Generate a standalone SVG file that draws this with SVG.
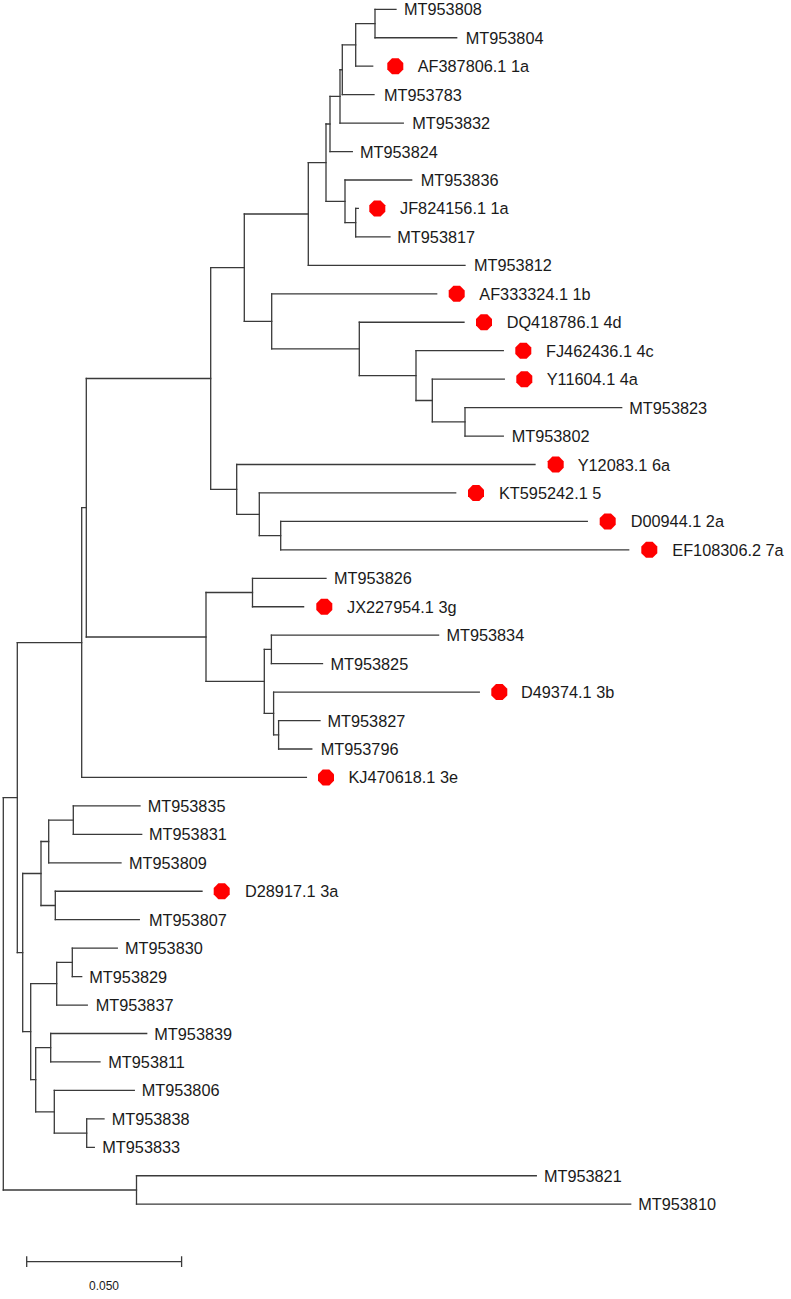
<svg xmlns="http://www.w3.org/2000/svg" xmlns:xlink="http://www.w3.org/1999/xlink" width="791" height="1299" viewBox="0 0 791 1299">
<style>
.br{fill:none;stroke:#3a3a3a;stroke-width:1.3;stroke-linecap:square}
.lb{font-family:"Liberation Sans",Arial,sans-serif;font-size:16.3px;fill:#1a1a1a}
.sc{font-family:"Liberation Sans",Arial,sans-serif;font-size:12px;fill:#1a1a1a}
.dot{fill:#ff0000}
</style>
<defs>
<path id="oct" d="M8,3.3 L3.3,8 L-3.3,8 L-8,3.3 L-8,-3.3 L-3.3,-8 L3.3,-8 L8,-3.3 Z"/>
</defs>
<rect width="791" height="1299" fill="#ffffff"/>
<g id="connectors">
<path class="br" d="M375 9.3 V37.75 M355.7 23.53 V66.2 M342.3 44.86 V94.65 M340 69.76 V123.1 M330 96.43 V151.55 M355.7 208.45 V236.9 M345 180 V222.68 M326 123.99 V201.34 M308.3 162.66 V265.35 M465 407.6 V436.05 M432.3 379.15 V421.83 M416 350.7 V400.49 M359.3 322.25 V375.6 M271.7 293.8 V348.9 M244.3 214 V321.35 M280.7 521.4 V549.85 M259.3 492.95 V535.6 M236.7 464.5 V514.3 M210.7 267.7 V489.4 M252.5 578.3 V606.75 M271.4 635.2 V663.65 M278.6 720.55 V749 M273.6 692.1 V734.8 M264.3 649.4 V713.4 M206 592.5 V681.4 M86.3 378.5 V637 M81.7 507.7 V777.45 M73.3 805.9 V834.35 M48.7 820.1 V862.8 M55.3 891.25 V919.7 M41 841.5 V905.5 M72.3 948.15 V976.6 M56.7 962.4 V1005.05 M50.7 1033.5 V1061.95 M86.7 1118.85 V1147.3 M54.3 1090.4 V1133.1 M35.7 1047.7 V1111.8 M30.7 983.7 V1079.7 M22.7 873.5 V1031.7 M17.3 642.6 V952.6 M136.5 1175.75 V1204.2 M3.3 797.6 V1190"/>
<path class="br" d="M355.7 23.53 H375 M342.3 44.86 H355.7 M340 69.76 H342.3 M330 96.43 H340 M326 123.99 H330 M345 222.68 H355.7 M326 201.34 H345 M308.3 162.66 H326 M244.3 214 H308.3 M432.3 421.83 H465 M416 400.49 H432.3 M359.3 375.6 H416 M271.7 348.9 H359.3 M244.3 321.35 H271.7 M210.7 267.7 H244.3 M259.3 535.6 H280.7 M236.7 514.3 H259.3 M210.7 489.4 H236.7 M86.3 378.5 H210.7 M206 592.5 H252.5 M264.3 649.4 H271.4 M273.6 734.8 H278.6 M264.3 713.4 H273.6 M206 681.4 H264.3 M86.3 637 H206 M81.7 507.7 H86.3 M17.3 642.6 H81.7 M48.7 820.1 H73.3 M41 841.5 H48.7 M41 905.5 H55.3 M22.7 873.5 H41 M56.7 962.4 H72.3 M30.7 983.7 H56.7 M35.7 1047.7 H50.7 M54.3 1133.1 H86.7 M35.7 1111.8 H54.3 M30.7 1079.7 H35.7 M22.7 1031.7 H30.7 M17.3 952.6 H22.7 M3.3 797.6 H17.3 M3.3 1190 H136.5"/>
<path class="br" d="M375 9.3 H396 M375 37.75 H456.7 M355.7 66.2 H372.7 M342.3 94.65 H374 M340 123.1 H403.3 M330 151.55 H352.3 M345 180 H411.7 M355.7 208.45 H358.3 M355.7 236.9 H390 M308.3 265.35 H465 M271.7 293.8 H436.7 M359.3 322.25 H464 M416 350.7 H503.3 M432.3 379.15 H504.3 M465 407.6 H621.7 M465 436.05 H503.3 M236.7 464.5 H535 M259.3 492.95 H455.7 M280.7 521.4 H587.3 M280.7 549.85 H628.7 M252.5 578.3 H326 M252.5 606.75 H303.6 M271.4 635.2 H438.6 M271.4 663.65 H322.5 M273.6 692.1 H479.3 M278.6 720.55 H320 M278.6 749 H311.8 M81.7 777.45 H306.4 M73.3 805.9 H140 M73.3 834.35 H141.7 M48.7 862.8 H121 M55.3 891.25 H202 M55.3 919.7 H139.3 M72.3 948.15 H117.3 M72.3 976.6 H81.7 M56.7 1005.05 H87.3 M50.7 1033.5 H146.7 M50.7 1061.95 H100 M54.3 1090.4 H134.3 M86.7 1118.85 H104 M86.7 1147.3 H94.3 M136.5 1175.75 H536.3 M136.5 1204.2 H630.7"/>
</g>
<g id="leaves">
<g id="n-MT953808"><text class="lb" x="404" y="15.3">MT953808</text></g>
<g id="n-MT953804"><text class="lb" x="465.7" y="43.75">MT953804</text></g>
<g id="n-AF387806"><use href="#oct" xlink:href="#oct" class="dot" x="395.3" y="66.2"/><text class="lb" x="417.7" y="72.2">AF387806.1 1a</text></g>
<g id="n-MT953783"><text class="lb" x="384" y="100.65">MT953783</text></g>
<g id="n-MT953832"><text class="lb" x="412.3" y="129.1">MT953832</text></g>
<g id="n-MT953824"><text class="lb" x="360" y="157.55">MT953824</text></g>
<g id="n-MT953836"><text class="lb" x="420.7" y="186">MT953836</text></g>
<g id="n-JF824156"><use href="#oct" xlink:href="#oct" class="dot" x="377.3" y="208.45"/><text class="lb" x="400" y="214.45">JF824156.1 1a</text></g>
<g id="n-MT953817"><text class="lb" x="397.3" y="242.9">MT953817</text></g>
<g id="n-MT953812"><text class="lb" x="474" y="271.35">MT953812</text></g>
<g id="n-AF333324"><use href="#oct" xlink:href="#oct" class="dot" x="456.7" y="293.8"/><text class="lb" x="479.3" y="299.8">AF333324.1 1b</text></g>
<g id="n-DQ418786"><use href="#oct" xlink:href="#oct" class="dot" x="484" y="322.25"/><text class="lb" x="506.7" y="328.25">DQ418786.1 4d</text></g>
<g id="n-FJ462436"><use href="#oct" xlink:href="#oct" class="dot" x="523.3" y="350.7"/><text class="lb" x="546" y="356.7">FJ462436.1 4c</text></g>
<g id="n-Y11604"><use href="#oct" xlink:href="#oct" class="dot" x="524.3" y="379.15"/><text class="lb" x="546.7" y="385.15">Y11604.1 4a</text></g>
<g id="n-MT953823"><text class="lb" x="629.3" y="413.6">MT953823</text></g>
<g id="n-MT953802"><text class="lb" x="511.7" y="442.05">MT953802</text></g>
<g id="n-Y12083"><use href="#oct" xlink:href="#oct" class="dot" x="555.7" y="464.5"/><text class="lb" x="577.7" y="470.5">Y12083.1 6a</text></g>
<g id="n-KT595242"><use href="#oct" xlink:href="#oct" class="dot" x="476" y="492.95"/><text class="lb" x="499" y="498.95">KT595242.1 5</text></g>
<g id="n-D00944"><use href="#oct" xlink:href="#oct" class="dot" x="607.7" y="521.4"/><text class="lb" x="630.7" y="527.4">D00944.1 2a</text></g>
<g id="n-EF108306"><use href="#oct" xlink:href="#oct" class="dot" x="649.3" y="549.85"/><text class="lb" x="672.3" y="555.85">EF108306.2 7a</text></g>
<g id="n-MT953826"><text class="lb" x="334" y="584.3">MT953826</text></g>
<g id="n-JX227954"><use href="#oct" xlink:href="#oct" class="dot" x="324.3" y="606.75"/><text class="lb" x="347" y="612.75">JX227954.1 3g</text></g>
<g id="n-MT953834"><text class="lb" x="446.4" y="641.2">MT953834</text></g>
<g id="n-MT953825"><text class="lb" x="330.4" y="669.65">MT953825</text></g>
<g id="n-D49374"><use href="#oct" xlink:href="#oct" class="dot" x="499.3" y="692.1"/><text class="lb" x="521" y="698.1">D49374.1 3b</text></g>
<g id="n-MT953827"><text class="lb" x="327.5" y="726.55">MT953827</text></g>
<g id="n-MT953796"><text class="lb" x="320.7" y="755">MT953796</text></g>
<g id="n-KJ470618"><use href="#oct" xlink:href="#oct" class="dot" x="326" y="777.45"/><text class="lb" x="348.5" y="783.45">KJ470618.1 3e</text></g>
<g id="n-MT953835"><text class="lb" x="147.7" y="811.9">MT953835</text></g>
<g id="n-MT953831"><text class="lb" x="149" y="840.35">MT953831</text></g>
<g id="n-MT953809"><text class="lb" x="129" y="868.8">MT953809</text></g>
<g id="n-D28917"><use href="#oct" xlink:href="#oct" class="dot" x="221.7" y="891.25"/><text class="lb" x="245" y="897.25">D28917.1 3a</text></g>
<g id="n-MT953807"><text class="lb" x="149" y="925.7">MT953807</text></g>
<g id="n-MT953830"><text class="lb" x="125" y="954.15">MT953830</text></g>
<g id="n-MT953829"><text class="lb" x="89.3" y="982.6">MT953829</text></g>
<g id="n-MT953837"><text class="lb" x="95.7" y="1011.05">MT953837</text></g>
<g id="n-MT953839"><text class="lb" x="154.3" y="1039.5">MT953839</text></g>
<g id="n-MT953811"><text class="lb" x="108.3" y="1067.95">MT953811</text></g>
<g id="n-MT953806"><text class="lb" x="141.7" y="1096.4">MT953806</text></g>
<g id="n-MT953838"><text class="lb" x="111.7" y="1124.85">MT953838</text></g>
<g id="n-MT953833"><text class="lb" x="102.3" y="1153.3">MT953833</text></g>
<g id="n-MT953821"><text class="lb" x="543.9" y="1181.75">MT953821</text></g>
<g id="n-MT953810"><text class="lb" x="638.2" y="1210.2">MT953810</text></g>
</g>
<g id="scale-bar">
<path class="br" d="M26.7 1261.7 H181.6 M26.7 1257 V1266.4 M181.6 1257 V1266.4"/>
<text class="sc" x="104" y="1290" text-anchor="middle">0.050</text>
</g>
</svg>
